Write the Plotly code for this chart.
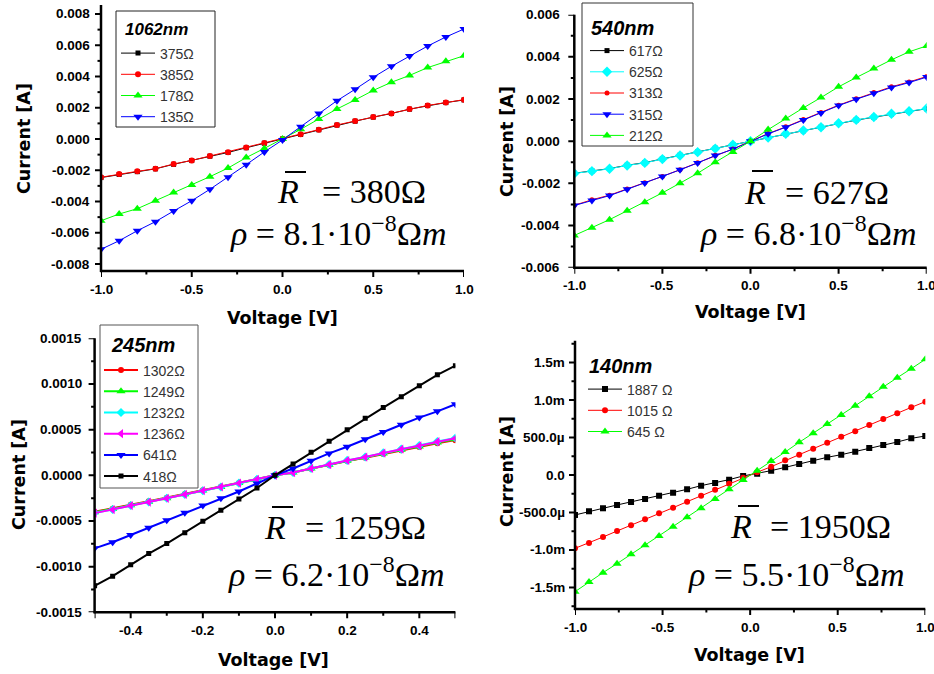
import numpy as np
import plotly.graph_objects as go

W, H = 934, 674

# ---------------- 1062 nm film ----------------
V_1062 = [-1.0, -0.9, -0.8, -0.7, -0.6, -0.5, -0.4, -0.3, -0.2, -0.1, 0.0,
          0.1, 0.2, 0.3, 0.4, 0.5, 0.6, 0.7, 0.8, 0.9, 1.0]
I_1062_375_mA = [-2.47, -2.27, -2.09, -1.91, -1.62, -1.38, -1.10, -0.86, -0.56, -0.27, 0.00,
                 0.29, 0.59, 0.89, 1.14, 1.40, 1.63, 1.91, 2.14, 2.33, 2.50]
I_1062_385_mA = [-2.45, -2.24, -2.07, -1.90, -1.60, -1.37, -1.09, -0.85, -0.55, -0.26, 0.00,
                 0.30, 0.60, 0.90, 1.15, 1.41, 1.64, 1.92, 2.15, 2.33, 2.52]
I_1062_178_mA = [-5.23, -4.80, -4.46, -3.95, -3.43, -2.94, -2.41, -1.86, -1.19, -0.60, 0.00,
                 0.62, 1.28, 1.92, 2.50, 3.11, 3.63, 4.07, 4.57, 4.97, 5.33]
I_1062_135_mA = [-7.06, -6.51, -5.87, -5.29, -4.61, -3.95, -3.22, -2.45, -1.64, -0.83, -0.06,
                 0.79, 1.64, 2.45, 3.18, 3.95, 4.65, 5.31, 5.95, 6.53, 7.04]

# ---------------- 540 nm film ----------------
V_540 = V_1062
I_540_617_mA = [-1.52, -1.41, -1.30, -1.14, -1.02, -0.84, -0.67, -0.51, -0.34, -0.17, 0.00,
                0.17, 0.34, 0.50, 0.66, 0.84, 1.00, 1.14, 1.29, 1.41, 1.54]
I_540_625_mA = [-1.53, -1.42, -1.31, -1.15, -1.03, -0.85, -0.68, -0.52, -0.35, -0.17, 0.00,
                0.17, 0.35, 0.51, 0.66, 0.85, 1.01, 1.15, 1.30, 1.42, 1.55]
I_540_313_mA = [-3.04, -2.78, -2.56, -2.27, -1.97, -1.67, -1.35, -1.02, -0.67, -0.37, 0.00,
                0.36, 0.68, 1.03, 1.36, 1.71, 2.01, 2.31, 2.58, 2.81, 3.07]
I_540_315_mA = [-3.05, -2.81, -2.58, -2.28, -1.98, -1.68, -1.36, -1.03, -0.68, -0.38, 0.00,
                0.35, 0.66, 1.01, 1.34, 1.69, 1.99, 2.28, 2.55, 2.78, 3.04]
I_540_212_mA = [-4.47, -4.11, -3.72, -3.30, -2.89, -2.45, -1.99, -1.52, -1.00, -0.51, 0.00,
                0.55, 1.08, 1.58, 2.07, 2.58, 3.02, 3.45, 3.86, 4.24, 4.52]

# ---------------- 245 nm film ----------------
V_245 = [-0.5, -0.45, -0.4, -0.35, -0.3, -0.25, -0.2, -0.15, -0.1, -0.05, 0.0,
         0.05, 0.1, 0.15, 0.2, 0.25, 0.3, 0.35, 0.4, 0.45, 0.5]
I_245_1302_mA = [-0.400, -0.365, -0.322, -0.285, -0.245, -0.205, -0.165, -0.125, -0.084, -0.044, 0.0,
                 0.030, 0.073, 0.113, 0.156, 0.193, 0.234, 0.275, 0.310, 0.350, 0.385]
I_245_1249_mA = [-0.405, -0.370, -0.327, -0.290, -0.250, -0.208, -0.167, -0.127, -0.085, -0.045, 0.0,
                 0.030, 0.074, 0.115, 0.159, 0.196, 0.239, 0.280, 0.316, 0.358, 0.395]
I_245_1232_mA = [-0.410, -0.375, -0.330, -0.292, -0.251, -0.210, -0.169, -0.128, -0.086, -0.045, 0.0,
                 0.031, 0.076, 0.118, 0.163, 0.201, 0.245, 0.287, 0.325, 0.370, 0.408]
I_245_1236_mA = [-0.414, -0.376, -0.331, -0.293, -0.252, -0.210, -0.169, -0.128, -0.086, -0.045, 0.0,
                 0.030, 0.075, 0.117, 0.162, 0.200, 0.244, 0.286, 0.323, 0.368, 0.406]
I_245_641_mA = [-0.800, -0.733, -0.654, -0.575, -0.492, -0.410, -0.331, -0.252, -0.177, -0.090, 0.0,
                0.075, 0.158, 0.240, 0.312, 0.395, 0.474, 0.553, 0.632, 0.700, 0.778]
I_245_418_mA = [-1.210, -1.105, -0.980, -0.857, -0.748, -0.628, -0.504, -0.383, -0.259, -0.139, 0.0,
                0.124, 0.252, 0.372, 0.500, 0.624, 0.741, 0.861, 0.981, 1.100, 1.200]

# ---------------- 140 nm film ----------------
V_140 = [-1.0, -0.92, -0.84, -0.76, -0.68, -0.6, -0.52, -0.44, -0.36, -0.28, -0.2, -0.12, -0.04,
         0.04, 0.12, 0.2, 0.28, 0.36, 0.44, 0.52, 0.6, 0.68, 0.76, 0.84, 0.92, 1.0]
I_140_1887_mA = [-0.533, -0.484, -0.444, -0.400, -0.360, -0.320, -0.276, -0.236, -0.191, -0.142,
                 -0.107, -0.062, -0.013, 0.018, 0.058, 0.102, 0.147, 0.191, 0.236, 0.271,
                 0.311, 0.360, 0.400, 0.440, 0.489, 0.520]
I_140_1015_mA = [-0.978, -0.907, -0.827, -0.747, -0.671, -0.591, -0.511, -0.436, -0.356, -0.276,
                 -0.196, -0.116, -0.036, 0.036, 0.111, 0.196, 0.271, 0.351, 0.431, 0.511,
                 0.582, 0.667, 0.747, 0.822, 0.902, 0.978]
I_140_645_mA = [-1.556, -1.427, -1.302, -1.182, -1.058, -0.938, -0.813, -0.689, -0.564, -0.444,
                -0.320, -0.191, -0.067, 0.058, 0.187, 0.307, 0.436, 0.556, 0.680, 0.800,
                0.924, 1.049, 1.178, 1.298, 1.418, 1.542]

# ---------------- tick labels ----------------
Y1_TICKS = [-0.008, -0.006, -0.004, -0.002, 0.0, 0.002, 0.004, 0.006, 0.008]
Y2_TICKS = [-0.006, -0.004, -0.002, 0.0, 0.002, 0.004, 0.006]
Y3_TICKS = [-0.0015, -0.0010, -0.0005, 0.0, 0.0005, 0.0010, 0.0015]
Y4_TICKS = [-0.0015, -0.0010, -0.0005, 0.0, 0.0005, 0.0010, 0.0015]
Y4_LABELS = ["-1.5m", "-1.0m", "-500.0\u00b5", "0.0", "500.0\u00b5", "1.0m", "1.5m"]
X_TICKS_1V = [-1.0, -0.5, 0.0, 0.5, 1.0]
X_TICKS_05V = [-0.4, -0.2, 0.0, 0.2, 0.4]

# ---------------- annotations ----------------
R_MEAN = ["380", "627", "1259", "1950"]
RHO = ["8.1", "6.8", "6.2", "5.5"]
THICKNESS = ["1062nm", "540nm", "245nm", "140nm"]


def px(x):
    return x / W


def py(y):
    return 1 - y / H


def amps(vals):
    return np.array(vals) * 1e-3


def fmt(vals, nd):
    return [f"{v:.{nd}f}" for v in vals]


def minor_positions(rng, step):
    n0 = int(np.ceil(rng[0] / step - 1e-9))
    n1 = int(np.floor(rng[1] / step + 1e-9))
    return [round(k * step, 8) for k in range(n0, n1 + 1)]


def bare_axis(domain, rng, anchor):
    return dict(domain=domain, range=rng, anchor=anchor, visible=True,
                showline=False, showgrid=False, zeroline=False,
                ticks="", showticklabels=False)


fig = go.Figure()


def add(x, y_mA, name, color, symbol, size, width, xa, ya, leg):
    fig.add_trace(go.Scatter(
        x=x, y=amps(y_mA), name=name, mode="lines+markers",
        xaxis=xa, yaxis=ya, legend=leg,
        line=dict(color=color, width=width),
        marker=dict(symbol=symbol, size=size, color=color, line=dict(width=0)),
    ))


# panel 1: 1062 nm
add(V_1062, I_1062_375_mA, "375\u03a9", "black", "square", 5, 1, "x", "y", "legend")
add(V_1062, I_1062_385_mA, "385\u03a9", "#ff0000", "circle", 6, 1, "x", "y", "legend")
add(V_1062, I_1062_178_mA, "178\u03a9", "#00ff00", "triangle-up", 8, 1, "x", "y", "legend")
add(V_1062, I_1062_135_mA, "135\u03a9", "#0000ff", "triangle-down", 8, 1, "x", "y", "legend")

# panel 2: 540 nm
add(V_540, I_540_617_mA, "617\u03a9", "black", "square", 5, 1, "x2", "y2", "legend2")
add(V_540, I_540_625_mA, "625\u03a9", "#00ffff", "diamond", 8, 1, "x2", "y2", "legend2")
add(V_540, I_540_313_mA, "313\u03a9", "#ff0000", "circle", 5, 1, "x2", "y2", "legend2")
add(V_540, I_540_315_mA, "315\u03a9", "#0000ff", "triangle-down", 8, 1, "x2", "y2", "legend2")
add(V_540, I_540_212_mA, "212\u03a9", "#00ff00", "triangle-up", 8, 1, "x2", "y2", "legend2")

# panel 3: 245 nm
add(V_245, I_245_1302_mA, "1302\u03a9", "#ff0000", "circle", 6, 2, "x3", "y3", "legend3")
add(V_245, I_245_1249_mA, "1249\u03a9", "#00ff00", "triangle-up", 8, 2, "x3", "y3", "legend3")
add(V_245, I_245_1232_mA, "1232\u03a9", "#00ffff", "diamond", 7, 2, "x3", "y3", "legend3")
add(V_245, I_245_1236_mA, "1236\u03a9", "#ff00ff", "triangle-left", 8, 2, "x3", "y3", "legend3")
add(V_245, I_245_641_mA, "641\u03a9", "#0000ff", "triangle-down", 8, 2, "x3", "y3", "legend3")
add(V_245, I_245_418_mA, "418\u03a9", "black", "square", 5, 2, "x3", "y3", "legend3")

# panel 4: 140 nm
add(V_140, I_140_1887_mA, "1887 \u03a9", "black", "square", 6, 1, "x4", "y4", "legend4")
add(V_140, I_140_1015_mA, "1015 \u03a9", "#ff0000", "circle", 6, 1, "x4", "y4", "legend4")
add(V_140, I_140_645_mA, "645 \u03a9", "#00ff00", "triangle-up", 8, 1, "x4", "y4", "legend4")

# plot-area placement in pixels: (left, right, top, bottom)
P1 = (101, 464, 5, 271)
P2 = (574.3, 926.7, 14.7, 267.7)
P3 = (94.6, 455.4, 338.3, 612.3)
P4 = (575, 925.3, 340.7, 609)


def xdom(p):
    return [px(p[0]), px(p[1])]


def ydom(p):
    return [py(p[3]), py(p[2])]


LEGFONT = dict(family="Liberation Sans, Arial", size=14, color="#333333")


def legend(x, y):
    return dict(
        x=px(x), y=py(y), xanchor="left", yanchor="top",
        bgcolor="rgba(0,0,0,0)", borderwidth=0,
        font=LEGFONT, itemwidth=34, tracegroupgap=0,
    )


XR1, YR1 = [-1, 1], [-0.008448, 0.008576]
XR2, YR2 = [-1, 1], [-0.006, 0.006]
XR3, YR3 = [-0.5, 0.5], [-0.0015, 0.0015]
XR4, YR4 = [-1, 1], [-0.001787, 0.001791]

fig.update_layout(
    width=W, height=H, autosize=False,
    margin=dict(l=0, r=0, t=0, b=0, pad=0),
    paper_bgcolor="white", plot_bgcolor="white",
    xaxis=bare_axis(xdom(P1), XR1, "y"), yaxis=bare_axis(ydom(P1), YR1, "x"),
    xaxis2=bare_axis(xdom(P2), XR2, "y2"), yaxis2=bare_axis(ydom(P2), YR2, "x2"),
    xaxis3=bare_axis(xdom(P3), XR3, "y3"), yaxis3=bare_axis(ydom(P3), YR3, "x3"),
    xaxis4=bare_axis(xdom(P4), XR4, "y4"), yaxis4=bare_axis(ydom(P4), YR4, "x4"),
    legend=legend(116, 37.5),
    legend2=legend(585, 35),
    legend3=legend(99, 354.5),
    legend4=legend(583, 373.5),
)

# legend frames and their headings
LEG_BOX = [(116, 215, 11, 127, "#222222"), (582, 693, 3, 146, "#333333"),
           (100, 198, 325, 488, "#555555")]
for (l, r, t, b, c) in LEG_BOX:
    fig.add_shape(type="rect", xref="paper", yref="paper", layer="above",
                  x0=px(l), x1=px(r), y0=py(b), y1=py(t),
                  fillcolor="white", line=dict(color=c, width=1))
LEG_HEAD = [(123, 30, 17), (589, 28, 20), (109, 345, 20), (587, 365.5, 20)]
for k, (x, y, s) in enumerate(LEG_HEAD):
    fig.add_annotation(x=px(x), y=py(y), xref="paper", yref="paper", showarrow=False,
                       text=f"<b><i>{THICKNESS[k]}</i></b>", xanchor="left", yanchor="middle",
                       font=dict(family="Arial, Liberation Sans", size=s, color="black"))

# ---- axis frames: spine lines, major/minor ticks and tick labels ----
TICKFONT = dict(family="Arial, Liberation Sans", size=13.5, color="black")
AXCOLOR = "#000000"
MAJ, MIN = 6, 3.5

PANELS = [
    # (placement, x ref, y ref, x range, y range, x ticks, x labels, y ticks, y labels,
    #  x minor step, y minor step, y label gap)
    (P1, "x", "y", XR1, YR1, X_TICKS_1V, fmt(X_TICKS_1V, 1), Y1_TICKS, fmt(Y1_TICKS, 3), 0.25, 0.001, 9.5),
    (P2, "x2", "y2", XR2, YR2, X_TICKS_1V, fmt(X_TICKS_1V, 1), Y2_TICKS, fmt(Y2_TICKS, 3), 0.25, 0.001, 12),
    (P3, "x3", "y3", XR3, YR3, X_TICKS_05V, fmt(X_TICKS_05V, 1), Y3_TICKS, fmt(Y3_TICKS, 4), 0.1, 0.00025, 11),
    (P4, "x4", "y4", XR4, YR4, X_TICKS_1V, fmt(X_TICKS_1V, 1), Y4_TICKS, Y4_LABELS, 0.25, 0.00025, 8),
]

for (P, xr, yr, xrng, yrng, xt, xl, yt, yl, xms, yms, ygap) in PANELS:
    left, right, top, bottom = P
    line = dict(color=AXCOLOR, width=2)
    # spines
    fig.add_shape(type="line", xref="paper", yref="paper",
                  x0=px(left), x1=px(left), y0=py(bottom + 1), y1=py(top),
                  line=dict(color=AXCOLOR, width=2.5))
    fig.add_shape(type="line", xref="paper", yref="paper",
                  x0=px(left - 1), x1=px(right), y0=py(bottom), y1=py(bottom),
                  line=dict(color=AXCOLOR, width=2.5))
    # x ticks
    for v in minor_positions(xrng, xms):
        ln = MAJ if any(abs(v - t) < 1e-9 for t in xt) or abs(abs(v) - abs(xrng[0])) < 1e-9 else MIN
        fig.add_shape(type="line", xref=xr, yref="paper", x0=v, x1=v,
                      y0=py(bottom), y1=py(bottom + ln), line=line)
    for v, lab in zip(xt, xl):
        fig.add_annotation(x=v, y=py(bottom + 18), xref=xr, yref="paper", showarrow=False,
                           text=f"<b>{lab}</b>", xanchor="center", yanchor="middle",
                           font=TICKFONT)
    # y ticks
    for v in minor_positions(yrng, yms):
        ln = MAJ if any(abs(v - t) < 1e-12 for t in yt) else MIN
        fig.add_shape(type="line", xref="paper", yref=yr, x0=px(left), x1=px(left - ln),
                      y0=v, y1=v, line=line)
    for v, lab in zip(yt, yl):
        fig.add_annotation(x=px(left - ygap), y=v, xref="paper", yref=yr, showarrow=False,
                           text=f"<b>{lab}</b>", xanchor="right", yanchor="middle",
                           font=TICKFONT)

# axis titles
XT = [(282, 318), (750, 312), (273, 660), (749, 655)]
YT = [(24, 139), (507, 142), (19, 475), (507, 472)]
for (x, y) in XT:
    fig.add_annotation(x=px(x), y=py(y), xref="paper", yref="paper", showarrow=False,
                       text="<b>Voltage [V]</b>", xanchor="center", yanchor="middle",
                       font=dict(family="DejaVu Sans", size=17.5, color="black"))
for (x, y) in YT:
    fig.add_annotation(x=px(x), y=py(y), xref="paper", yref="paper", showarrow=False,
                       text="<b>Current [A]</b>", textangle=-90,
                       xanchor="center", yanchor="middle",
                       font=dict(family="DejaVu Sans", size=17.5, color="black"))

# mean resistance and resistivity labels
SERIF = dict(family="Liberation Serif, Times New Roman", size=34, color="black")
R_POS = [(275, 320, 191.5), (742, 783, 192), (262, 303, 527.5), (728, 768, 526)]
RHO_POS = [(338.5, 231), (808.5, 231), (336.5, 572), (796.5, 572)]
BAR = [(285, 306, 172), (752, 773, 171), (272, 293, 507), (738, 759, 506)]
for k in range(4):
    xr_, xe, y = R_POS[k]
    fig.add_annotation(x=px(xr_), y=py(y), xref="paper", yref="paper", showarrow=False,
                       text="<i>R</i>", xanchor="left", yanchor="middle", font=SERIF)
    fig.add_annotation(x=px(xe), y=py(y), xref="paper", yref="paper", showarrow=False,
                       text=f"= {R_MEAN[k]}\u03a9", xanchor="left", yanchor="middle", font=SERIF)
    xc, yc = RHO_POS[k]
    fig.add_annotation(x=px(xc), y=py(yc), xref="paper", yref="paper", showarrow=False,
                       text=f"<i>\u03c1</i> = {RHO[k]}\u00b710<sup>\u22128</sup>\u03a9<i>m</i>",
                       xanchor="center", yanchor="middle", font=SERIF)
    x0, x1, yb = BAR[k]
    fig.add_shape(type="line", xref="paper", yref="paper",
                  x0=px(x0), x1=px(x1), y0=py(yb), y1=py(yb),
                  line=dict(color="black", width=2))

fig.write_html("out.html")
